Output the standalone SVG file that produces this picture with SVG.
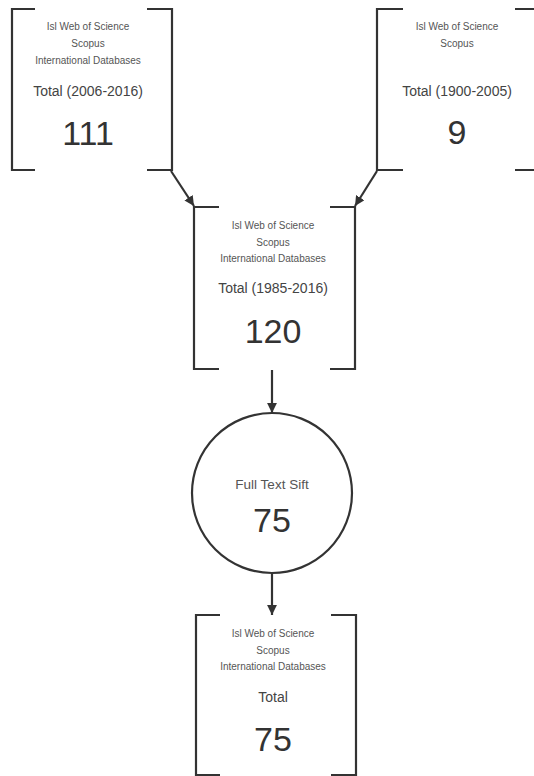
<svg xmlns="http://www.w3.org/2000/svg" width="534" height="776" viewBox="0 0 534 776">
<style>
.br{fill:none;stroke:#333;stroke-width:2.2;stroke-linecap:butt}
.s{font-family:"Liberation Sans",Arial,sans-serif;font-size:10px;fill:#555;text-anchor:middle}
.m{font-family:"Liberation Sans",Arial,sans-serif;font-size:14px;fill:#444;text-anchor:middle}
.b{font-family:"Liberation Sans",Arial,sans-serif;font-size:34px;fill:#333;text-anchor:middle}
.c{fill:none;stroke:#333;stroke-width:2.2;marker-end:url(#ah)}
</style>
<defs>
<marker id="ah" viewBox="0 0 10 10" refX="10" refY="5" markerWidth="4.5" markerHeight="4.5" orient="auto" markerUnits="strokeWidth">
<path d="M0,0 L10,5 L0,10 z" fill="#333"/>
</marker>
</defs>
<rect width="534" height="776" fill="#fff"/>
<g id="box1">
<path class="br" d="M35,9 H12 V170 H35 M147,9 H172 V170 H147"/>
<text class="s" x="88" y="30">Isl Web of Science</text>
<text class="s" x="88" y="47">Scopus</text>
<text class="s" x="88" y="64">International Databases</text>
<text class="m" x="88" y="96">Total (2006-2016)</text>
<text class="b" x="88" y="145">111</text>
</g>
<g id="box2">
<path class="br" d="M403,9 H377 V170 H403 M515,9 H536 M515,170 H536"/>
<text class="s" x="457" y="30">Isl Web of Science</text>
<text class="s" x="457" y="47">Scopus</text>
<text class="m" x="457" y="96">Total (1900-2005)</text>
<text class="b" x="457" y="144">9</text>
</g>
<g id="box3">
<path class="br" d="M219,207 H194 V369 H219 M330,207 H355 V369 H330"/>
<text class="s" x="273" y="229">Isl Web of Science</text>
<text class="s" x="273" y="246">Scopus</text>
<text class="s" x="273" y="262">International Databases</text>
<text class="m" x="273" y="293">Total (1985-2016)</text>
<text class="b" x="273" y="343">120</text>
</g>
<g id="circle">
<circle cx="272" cy="493" r="80" fill="none" stroke="#333" stroke-width="2.2"/>
<text class="s" style="font-size:13.5px" x="272" y="489">Full Text Sift</text>
<text class="b" x="272" y="532">75</text>
</g>
<g id="box4">
<path class="br" d="M220,615 H196 V775 H220 M331,615 H356 V775 H331"/>
<text class="s" x="273" y="637">Isl Web of Science</text>
<text class="s" x="273" y="654">Scopus</text>
<text class="s" x="273" y="670">International Databases</text>
<text class="m" x="273" y="702">Total</text>
<text class="b" x="273" y="751">75</text>
</g>
<g id="connectors">
<path class="c" d="M171,171 L194,206"/>
<path class="c" d="M377,171 L355,206"/>
<path class="c" d="M272,370 V413"/>
<path class="c" d="M272,574 V615"/>
</g>
</svg>
